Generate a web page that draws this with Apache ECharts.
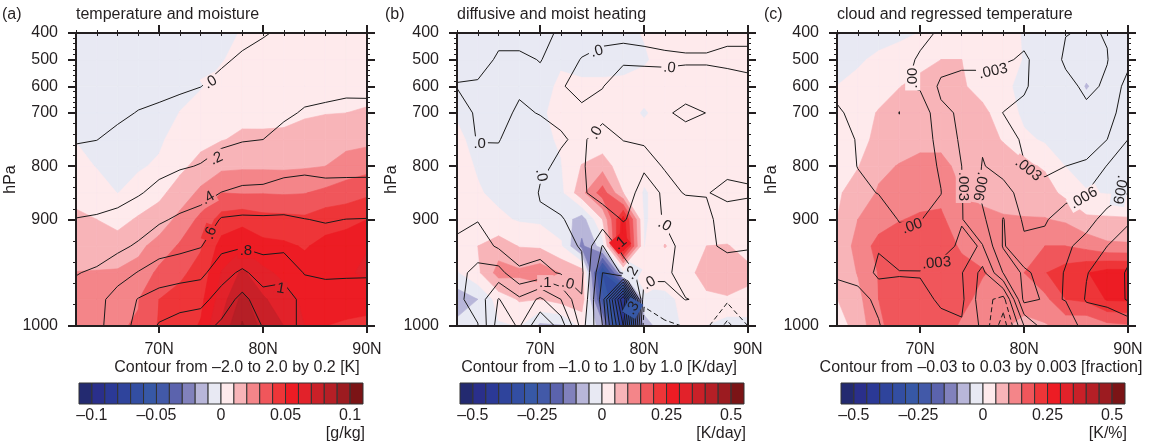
<!DOCTYPE html>
<html>
<head>
<meta charset="utf-8">
<style>
html, body { margin: 0; padding: 0; background: #fff; }
#chart { width: 1150px; height: 446px; }
</style>
<script src="https://cdn.jsdelivr.net/npm/echarts@6/dist/echarts.min.js"></script>
</head>
<body>
<div id="chart"></div>
<script>
// grid of the three panels: one row per latitude below, one value per pressure level
const lats = [62, 64, 66, 68, 70, 72, 74, 76, 78, 80, 82, 84, 86, 88, 90];
const levels = [400, 500, 600, 700, 750, 800, 850, 900, 925, 950, 975, 1000];

const stepColors = ['#232a70', '#2a2f8b', '#2b3996', '#2f449c', '#334ea2', '#3758a6', '#4259a8', '#5b63ad',
    '#8181bc', '#b8b6d9', '#e8e9f3', '#feeaec', '#f8b4b8', '#f48589', '#f0565b', '#ee3538',
    '#ed1c24', '#e2222a', '#c92028', '#b51f26', '#9c1b20', '#7b1416'];

// shading, in colour steps (a: 0.01 g/kg, b: 0.05 K/day, c: 0.05 K/%)
const shadeA = [
    [-.6, -.6, -.5, -.25, -.04, .35, .75, 1.16, 1.59, 2.02, 2.4, 2.7],
    [-.7, -.7, -.6, -.45, -.2, -.05, .47, 1.0, 1.53, 2.05, 2.4, 2.75],
    [-.7, -.7, -.65, -.55, -.4, -.2, -.02, .7, 1.41, 2.1, 2.6, 2.95],
    [-.65, -.65, -.55, -.45, -.3, -.1, .35, 1.11, 1.75, 2.36, 2.97, 3.05],
    [-.6, -.55, -.5, -.35, -.15, .13, .79, 1.41, 2.41, 3.23, 4.0, 4.1],
    [-.45, -.35, -.25, .02, .41, .79, 1.4, 2.31, 3.13, 3.82, 4.3, 4.5],
    [-.3, -.25, -.05, .31, .73, 1.31, 2.23, 3.25, 3.91, 4.33, 4.73, 5.1],
    [-.2, -.05, .27, .62, .96, 1.77, 3.0, 4.4, 5.38, 6.05, 6.5, 7.2],
    [.05, .27, .52, .79, 1.14, 1.86, 2.93, 4.66, 5.85, 7.2, 8.33, 9.15],
    [.1, .35, .6, .8, 1.13, 1.85, 2.95, 4.35, 5.3, 6.23, 7.15, 7.6],
    [.15, .35, .55, .78, 1.18, 1.84, 2.9, 4.3, 5.18, 5.77, 6.4, 7.0],
    [.2, .4, .6, .9, 1.34, 1.9, 2.96, 4.2, 4.92, 5.37, 5.8, 6.0],
    [.25, .45, .7, .97, 1.48, 2.0, 3.24, 4.6, 5.27, 5.6, 5.4, 5.0],
    [.3, .5, .75, 1.0, 1.65, 2.45, 3.5, 4.7, 5.5, 5.85, 5.3, 4.9],
    [.35, .55, .8, 1.06, 1.75, 2.65, 3.8, 5.0, 5.95, 6.2, 5.3, 4.8]
];
const shadeB = [
    [-.3, -.3, -.3, -.1, .2, .4, .4, .4, .5, -.1, -1.6, -.7],
    [-.4, -.4, -.4, -.4, -.3, -.1, .1, .45, 1.0, .8, -1.0, -.7],
    [-.4, -.4, -.4, -.4, -.4, -.3, -.25, .2, 1.5, 2.4, .4, -.1],
    [-.4, -.4, -.4, -.4, -.4, -.4, -.3, -.1, .95, 2.2, 1.1, .02],
    [-.4, -.4, -.4, -.15, -.2, -.35, -.4, -.2, .85, 2.6, 1.0, -1.2],
    [-.3, -.15, .2, .3, .1, -.05, -.3, -.35, .1, 1.95, 1.4, -1.1],
    [-.15, -.1, .05, .25, .35, 1.05, 1.7, -1.5, -2.2, 1.6, 1.7, .2],
    [-.2, -.2, .1, .3, .3, 1.6, 3.5, 1.0, -.5, -6, -4.5, -1.5],
    [-.2, -.15, .1, .3, .3, .3, 1.0, 5.5, 6.2, -.5, -9, -8],
    [.05, -.1, .3, -.08, .3, .3, -.1, -.1, -.05, .4, -.3, -1.5],
    [.2, .3, .4, .3, .3, .3, .4, .4, 1.05, .3, -.15, -.35],
    [.3, .4, .4, .4, .4, .4, .4, .4, .4, .5, .15, .12],
    [.3, .4, .4, .4, .4, .4, .4, .4, 1.0, 1.6, .7, -.02],
    [.3, .4, .4, .4, .4, .4, .4, .4, 1.05, 1.6, .9, -.5],
    [.3, .4, .4, .4, .4, .4, .4, .4, .7, 1.2, .8, -.4]
];
const shadeC = [
    [-1.05, -.6, .02, .3, .5, .7, .85, 1.0, 1.35, 1.3, .98, .5],
    [-.7, -.1, .2, .4, .6, .95, 1.45, 2.0, 2.3, 2.05, 1.7, 1.4],
    [-.3, .15, .4, 1.1, 1.3, 1.8, 2.1, 2.5, 3.4, 3.05, 3.0, 2.8],
    [-.15, .3, .98, 1.3, 1.6, 2.05, 2.5, 2.95, 3.6, 3.9, 3.7, 3.5],
    [.02, .8, 1.2, 1.5, 1.7, 2.3, 2.6, 3.15, 3.8, 3.9, 3.9, 3.8],
    [.15, 1.0, 1.3, 1.5, 1.8, 2.2, 2.7, 3.2, 3.7, 3.9, 3.8, 3.7],
    [.2, 1.0, 1.05, 1.4, 1.5, 1.8, 2.0, 2.3, 2.8, 3.5, 3.4, 2.8],
    [.2, .6, .85, 1.1, 1.3, 1.6, 1.9, 2.1, 2.5, 3.1, 2.6, 2.5],
    [.1, .4, .3, .8, .95, 1.4, 1.8, 2.05, 2.3, 2.6, 2.4, 2.15],
    [-.02, -.05, -.4, -.3, .25, 1.2, 1.6, 2.05, 2.5, 3.0, 2.6, 1.6],
    [-.2, -.3, -.3, -.3, -.15, .9, 1.4, 2.05, 3.0, 3.95, 2.7, 1.9],
    [-.3, -.4, -.4, -.4, -.3, -.02, .75, 1.85, 3.0, 4.5, 4.0, 2.3],
    [-.4, -.6, -1.05, -.6, -.5, -.3, .05, 1.2, 2.7, 4.95, 4.2, 2.2],
    [-.5, -.6, -.6, -.6, -.5, -.3, -.05, 1.15, 2.2, 5.4, 5.1, 2.7],
    [-.4, -.5, -.5, -.5, -.4, -.3, -.05, 1.1, 2.15, 5.4, 5.15, 2.85]
];

// contour lines, in contour intervals (a: 0.2 K, b: 0.1 K/day, c: 0.003)
const lineA = [
    [-.9, -.8, -.6, -.4, -.06, .3, .66, 1.02, 1.5, 1.96, 2.3, 2.7],
    [-.9, -.8, -.6, -.35, -.01, .34, .7, 1.07, 1.6, 2.12, 2.7, 2.8],
    [-.9, -.7, -.45, -.13, .17, .47, .78, 1.17, 1.78, 2.59, 3.4, 3.4],
    [-.7, -.5, -.25, .03, .33, .63, .93, 1.48, 2.13, 3.05, 4.05, 4.35],
    [-.65, -.45, -.2, .13, .46, .78, 1.22, 1.87, 2.57, 3.47, 4.4, 5.1],
    [-.6, -.4, -.1, .23, .57, .92, 1.5, 2.15, 2.75, 3.61, 4.6, 5.4],
    [-.5, -.3, -.01, .33, .67, 1.04, 1.7, 2.34, 2.95, 3.76, 4.68, 5.6],
    [-.4, -.1, .2, .52, .83, 1.34, 2.02, 3.08, 3.76, 4.59, 5.44, 6.2],
    [-.2, .1, .39, .67, .95, 1.5, 2.19, 3.16, 3.9, 5.2, 6.3, 7.0],
    [-.05, .22, .48, .74, 1.0, 1.4, 2.28, 3.12, 3.74, 4.54, 5.4, 5.93],
    [.1, .35, .6, .87, 1.26, 1.73, 2.35, 3.14, 3.77, 4.7, 5.45, 5.45],
    [.25, .5, .75, 1.07, 1.43, 1.85, 2.3, 3.02, 3.5, 3.94, 4.7, 4.7],
    [.3, .55, .8, 1.13, 1.46, 1.79, 2.26, 2.93, 3.43, 3.9, 4.3, 4.6],
    [.35, .6, .85, 1.19, 1.5, 1.8, 2.27, 3.01, 3.45, 3.92, 4.3, 4.6],
    [.35, .6, .85, 1.18, 1.5, 1.8, 2.28, 3.03, 3.46, 3.93, 4.3, 4.6]
];
const lineB = [
    [-.5, -.3, .05, -.6, -.5, -.6, -.5, -.5, .4, .7, .8, .8],
    [-.5, -.3, .1, .2, .05, -.4, -.3, -.05, .5, 1.3, 1.4, .95],
    [-.2, .1, .2, .2, .03, -.2, -.3, -.3, -.15, 1.4, 3.05, 3.5],
    [-.2, .1, .1, -.1, -.3, -.5, -.5, -.4, -.3, .1, 2.2, 2.9],
    [-.2, -.02, .15, .03, -.3, -.1, .05, -.1, -.3, .3, 3.2, 4.9],
    [.1, .2, .02, .1, -.05, .1, .1, -.02, -.2, -.1, 2.0, 3.6],
    [.2, -.02, -.08, .05, .1, .1, .1, .1, .05, -.2, .05, .6],
    [.1, -.1, -.02, .2, -.3, -.5, -.3, .4, 2.05, 3, 3.5, 3],
    [.05, -.08, .3, .3, .02, -.4, -.4, -.05, .5, 1.8, 11, 9],
    [.1, -.1, .3, .3, .03, -.1, .3, .3, .3, .4, -.8, -1.5],
    [.15, -.08, .2, .06, .2, .02, -.1, -.05, .2, .15, -.3, -1.2],
    [.15, -.05, .2, -.1, .2, .2, .02, -.2, -.2, -.3, .02, -.95],
    [.15, -.05, .2, .005, .2, .2, .02, -.1, -.1, -.3, -.1, -.8],
    [.1, -.1, .2, .3, .3, .1, -.1, .2, .1, -.3, -.8, -2.3],
    [.1, -.1, .1, .3, .3, .1, -.05, .2, .05, -.3, -.3, -1]
];
const lineC = [
    [-.5, -.4, -.2, .1, .3, .4, .4, .4, .3, .05, -.15, -.4],
    [-.5, -.4, -.3, -.2, -.05, -.02, .2, .4, .6, .2, -.2, -.5],
    [-.4, -.3, -.25, -.2, -.15, -.1, -.03, .5, .9, 1.27, .13, -.05],
    [-.3, -.3, -.1, .005, -.1, -.2, -.15, -.05, .4, 1.05, .7, .5],
    [-.2, .1, .15, -.75, -.8, -.4, -.1, -.03, .3, 1.05, .8, .5],
    [.1, .6, 1.2, .8, .5, .1, -.02, .3, .7, 1.3, 1.1, .8],
    [.3, .8, 1.3, 1.13, 1.12, 1.0, .95, .95, 1.15, 1.05, 1.2, .9],
    [.4, .8, 1.3, 1.5, 1.9, 2.05, 2.2, 1.8, .95, -.3, -.6, -.2],
    [.4, .9, 1.5, .98, 1.6, 1.7, 2.3, 3.05, 3.1, 2.05, -1.4, -2.6],
    [.8, 1.1, 1.1, .8, .8, 1.05, 1.7, 1.84, 2.2, 3.2, 3.3, 1.0],
    [.7, .7, .6, .5, .5, .8, 1.3, 1.9, 2.3, 2.6, 2.9, 2.5],
    [.03, -.17, .3, .5, .6, 1.0, 1.65, 2.5, 2.85, 3.05, 3.02, 2.7],
    [-.08, -.2, -.2, .2, .7, 1.1, 2.0, 2.7, 3.3, 3.95, 4.1, 3.2],
    [.04, -.03, .13, .7, 1.0, 2.05, 2.6, 3.3, 4.0, 4.5, 4.4, 3.05],
    [.3, .7, 1.4, 1.4, 2.0, 2.6, 3.0, 3.8, 4.7, 5.1, 5.1, 3.4]
];

// contour labels: latitude, level index, text, angle
const labelsA = [
    [74.95, 1.85, '.0', 30], [75.5, 4.72, '.2', 25], [74.7, 6.2, '.4', 30],
    [74.95, 7.51, '.6', 70], [78.35, 8.18, '.8', 0], [81.7, 9.6, '1', -10]
];
const labelsB = [
    [75.46, .69, '.0', 15], [82.45, 1.31, '.0', -5], [64.18, 4.16, '.0', 0],
    [75.36, 3.75, '.0', 60], [70.1, 5.34, '.0', -80], [81.97, 7.21, '.0', -30],
    [70.5, 9.37, '.1', 0], [72.67, 9.42, '.0', -15], [80.5, 9.39, '.0', 30],
    [77.7, 7.89, '.1', 40], [78.83, 9.01, '.2', 60], [78.9, 10.33, '.3', 60]
];
const labelsC = [
    [69.28, 1.69, '.00', 90], [77.03, 1.44, '.003', 12], [80.4, 5.12, '.003', -38],
    [74.15, 5.76, '.003', -90], [75.75, 5.76, '.006', -100], [69.24, 7.26, '.00', 20],
    [71.58, 8.64, '.003', 5], [85.75, 6.2, '.006', 30], [89.2, 5.88, '.009', -100]
];

const barTicks = [1, 6, 11, 16, 21];
const barLabelsA = ['–0.1', '–0.05', '0', '0.05', '0.1'];
const barLabelsB = ['–0.5', '–0.25', '0', '0.25', '0.5'];

const panels = [
    { tag: '(a)', tagX: 2, title: 'temperature and moisture', left: 76, shade: shadeA, line: lineA, labels: labelsA,
      contour: 'Contour from –2.0 to 2.0 by 0.2 [K]', contourX: 237, barLeft: 79, barLabels: barLabelsA, unit: '[g/kg]', nameGap: 53 },
    { tag: '(b)', tagX: 385, title: 'diffusive and moist heating', left: 457, shade: shadeB, line: lineB, labels: labelsB,
      contour: 'Contour from –1.0 to 1.0 by 1.0 [K/day]', contourX: 599, barLeft: 460, barLabels: barLabelsB, unit: '[K/day]', nameGap: 54 },
    { tag: '(c)', tagX: 764, title: 'cloud and regressed temperature', left: 837, shade: shadeC, line: lineC, labels: labelsC,
      contour: 'Contour from –0.03 to 0.03 by 0.003 [fraction]', contourX: 981, barLeft: 841, barLabels: barLabelsB, unit: '[K/%]', nameGap: 54 }
];

const font = '"Liberation Sans", Arial, sans-serif';
const ink = '#231f20';
const panelWidth = 291;
const barWidth = 284;

function hpaToIndex(p) {
    for (let j = 0; j < levels.length - 1; j++) {
        if (p <= levels[j + 1]) return j + (p - levels[j]) / (levels[j + 1] - levels[j]);
    }
    return levels.length - 1;
}
const yMajor = [400, 500, 600, 700, 800, 900, 1000].map(hpaToIndex);
const yMinor = [];
for (let p = 400; p <= 1000; p += 20) yMinor.push(hpaToIndex(p));
const xMajor = [70, 80, 90];

function cellCorners(field, i, j) {
    return [[lats[i], j, field[i][j]], [lats[i + 1], j, field[i + 1][j]],
        [lats[i + 1], j + 1, field[i + 1][j + 1]], [lats[i], j + 1, field[i][j + 1]]];
}

// part of one grid cell on one side of a threshold
function clipCell(c, t, sign) {
    const out = [];
    for (let n = 0; n < 4; n++) {
        const a = c[n], b = c[(n + 1) % 4];
        const da = sign * (a[2] - t), db = sign * (b[2] - t);
        if (da >= 0) out.push([a[0], a[1]]);
        if ((da >= 0) !== (db >= 0)) {
            const f = da / (da - db);
            out.push([a[0] + f * (b[0] - a[0]), a[1] + f * (b[1] - a[1])]);
        }
    }
    return out;
}

function fillShapes(field) {
    const shapes = [];
    const nx = lats.length - 1, ny = levels.length - 1;
    const add = (t, sign, color) => {
        for (let i = 0; i < nx; i++) {
            for (let j = 0; j < ny; j++) {
                const poly = clipCell(cellCorners(field, i, j), t, sign);
                if (poly.length > 2) shapes.push({ poly: poly, color: color });
            }
        }
    };
    add(-99, 1, stepColors[10]);
    add(0, 1, stepColors[11]);
    for (let k = 1; k <= 10; k++) add(k, 1, stepColors[11 + k]);
    for (let k = -1; k >= -10; k--) add(k, -1, stepColors[10 + k]);
    return shapes;
}

function contourSegments(field) {
    const segs = [];
    for (let t = -3; t <= 11; t++) {
        for (let i = 0; i < lats.length - 1; i++) {
            for (let j = 0; j < levels.length - 1; j++) {
                const c = cellCorners(field, i, j);
                const pts = [];
                for (let n = 0; n < 4; n++) {
                    const a = c[n], b = c[(n + 1) % 4];
                    if ((a[2] >= t) !== (b[2] >= t)) {
                        const f = (t - a[2]) / (b[2] - a[2]);
                        pts.push([a[0] + f * (b[0] - a[0]), a[1] + f * (b[1] - a[1])]);
                    }
                }
                if (pts.length >= 2) segs.push({ a: pts[0], b: pts[1], dashed: t < 0 });
                if (pts.length === 4) segs.push({ a: pts[2], b: pts[3], dashed: t < 0 });
            }
        }
    }
    return segs;
}

function shadeColorAt(field, lat, r) {
    const x = (lat - lats[0]) / 2, i = Math.min(Math.floor(x), lats.length - 2), j = Math.min(Math.floor(r), levels.length - 2);
    const fx = x - i, fy = r - j;
    const v = (field[i][j] * (1 - fx) + field[i + 1][j] * fx) * (1 - fy) + (field[i][j + 1] * (1 - fx) + field[i + 1][j + 1] * fx) * fy;
    return stepColors[Math.max(0, Math.min(21, 11 + Math.floor(v)))];
}

const option = {
    animation: false,
    backgroundColor: '#fff',
    title: [],
    grid: [],
    xAxis: [],
    yAxis: [],
    series: []
};

function plainAxis(extra) {
    return Object.assign({
        type: 'value', z: 10, silent: true, splitLine: { show: false },
        axisLine: { show: false }, axisLabel: { show: false }
    }, extra);
}

panels.forEach((p, n) => {
    const text = (t, x, y, align) => ({
        text: t, left: x, top: y, textAlign: align, padding: 0,
        textStyle: { fontFamily: font, fontSize: 16, fontWeight: 'normal', color: ink }
    });
    option.title.push(text(p.tag, p.tagX, 7, 'left'));
    option.title.push(text(p.title, p.left, 7, 'left'));
    option.title.push(text(p.contour, p.contourX, 360, 'center'));
    option.title.push(text(p.unit, p.barLeft + barWidth + 2, 426, 'right'));

    option.grid.push({ left: p.left, top: 33, width: panelWidth, height: 293 });
    const xBase = { gridIndex: n, min: 62, max: 90 };
    const yBase = { gridIndex: n, min: 0, max: 11, inverse: true };
    const first = option.xAxis.length, firstY = option.yAxis.length;

    option.xAxis.push(plainAxis(Object.assign({}, xBase, {
        position: 'bottom',
        axisLine: { show: true, onZero: false, lineStyle: { color: ink, width: 2 } },
        axisTick: { show: true, customValues: xMajor, length: 7, lineStyle: { color: ink, width: 2 } },
        axisLabel: {
            show: true, customValues: xMajor, margin: 16, showMinLabel: true, showMaxLabel: true,
            fontFamily: font, fontSize: 16, color: ink, formatter: v => v + 'N'
        }
    })));
    option.xAxis.push(plainAxis(Object.assign({}, xBase, { position: 'bottom', axisTick: { show: true, customValues: lats, length: 3, lineStyle: { color: ink, width: 1 } } })));
    option.xAxis.push(plainAxis(Object.assign({}, xBase, {
        position: 'top',
        axisLine: { show: true, onZero: false, lineStyle: { color: ink, width: 2 } },
        axisTick: { show: true, customValues: xMajor, length: 8, lineStyle: { color: ink, width: 2 } }
    })));
    option.xAxis.push(plainAxis(Object.assign({}, xBase, { position: 'top', axisTick: { show: true, customValues: lats, length: 3, lineStyle: { color: ink, width: 1 } } })));

    option.yAxis.push(plainAxis(Object.assign({}, yBase, {
        position: 'left',
        name: 'hPa', nameLocation: 'middle', nameGap: p.nameGap, nameRotate: 90,
        nameTextStyle: { fontFamily: font, fontSize: 16, color: ink },
        axisLine: { show: true, onZero: false, lineStyle: { color: ink, width: 2 } },
        axisTick: { show: true, customValues: yMajor, length: 8, lineStyle: { color: ink, width: 2 } },
        axisLabel: {
            show: true, customValues: yMajor, margin: 18, showMinLabel: true, showMaxLabel: true,
            fontFamily: font, fontSize: 16, color: ink, formatter: v => String(levels[Math.round(v)])
        }
    })));
    option.yAxis.push(plainAxis(Object.assign({}, yBase, { position: 'left', axisTick: { show: true, customValues: yMinor, length: 3, lineStyle: { color: ink, width: 1 } } })));
    option.yAxis.push(plainAxis(Object.assign({}, yBase, {
        position: 'right',
        axisLine: { show: true, onZero: false, lineStyle: { color: ink, width: 2 } },
        axisTick: { show: true, customValues: yMajor, length: 8, lineStyle: { color: ink, width: 2 } }
    })));
    option.yAxis.push(plainAxis(Object.assign({}, yBase, { position: 'right', axisTick: { show: true, customValues: yMinor, length: 3, lineStyle: { color: ink, width: 1 } } })));

    const shapes = fillShapes(p.shade);
    const segs = contourSegments(p.line);
    option.series.push({
        type: 'custom', coordinateSystem: 'cartesian2d', xAxisIndex: first, yAxisIndex: firstY,
        silent: true, clip: true, data: [[62, 0]],
        renderItem: (params, api) => {
            const children = [];
            shapes.forEach(s => children.push({
                type: 'polygon',
                shape: { points: s.poly.map(q => api.coord(q)) },
                style: { fill: s.color, stroke: s.color, lineWidth: .6 }
            }));
            segs.forEach(s => {
                const a = api.coord(s.a), b = api.coord(s.b);
                children.push({
                    type: 'line',
                    shape: { x1: a[0], y1: a[1], x2: b[0], y2: b[1] },
                    style: { stroke: '#1a1a1a', lineWidth: 1, lineDash: s.dashed ? [5, 3] : null }
                });
            });
            p.labels.forEach(l => {
                const c = api.coord([l[0], l[1]]);
                children.push({
                    type: 'text', x: c[0], y: c[1], rotation: l[3] * Math.PI / 180,
                    style: {
                        text: l[2], font: '15px ' + font, fill: ink, align: 'center', verticalAlign: 'middle',
                        backgroundColor: shadeColorAt(p.shade, l[0], l[1]), padding: [0, 2]
                    }
                });
            });
            return { type: 'group', children: children };
        }
    });
});

panels.forEach((p, n) => {
    const g = panels.length + n;
    option.grid.push({ left: p.barLeft, top: 383, width: barWidth, height: 21 });
    const xi = option.xAxis.length, yi = option.yAxis.length;
    option.xAxis.push(plainAxis({
        gridIndex: g, min: 0, max: 22, position: 'bottom',
        axisTick: { show: false },
        axisLabel: {
            show: true, customValues: barTicks, margin: 4, showMinLabel: true, showMaxLabel: true,
            fontFamily: font, fontSize: 16, color: ink, formatter: v => p.barLabels[barTicks.indexOf(v)]
        }
    }));
    option.yAxis.push(plainAxis({ gridIndex: g, min: 0, max: 1, show: false }));
    option.series.push({
        type: 'custom', coordinateSystem: 'cartesian2d', xAxisIndex: xi, yAxisIndex: yi,
        silent: true, clip: false, data: stepColors.map((c, i) => [i, 0]),
        renderItem: (params, api) => {
            const i = api.value(0);
            const a = api.coord([i, 1]), b = api.coord([i + 1, 0]);
            return {
                type: 'rect',
                shape: { x: a[0], y: a[1], width: b[0] - a[0], height: b[1] - a[1] },
                style: { fill: stepColors[i], stroke: '#333', lineWidth: 1 }
            };
        }
    });
});

const myChart = echarts.init(document.getElementById('chart'), null, { renderer: 'canvas' });
myChart.setOption(option);
</script>
</body>
</html>
